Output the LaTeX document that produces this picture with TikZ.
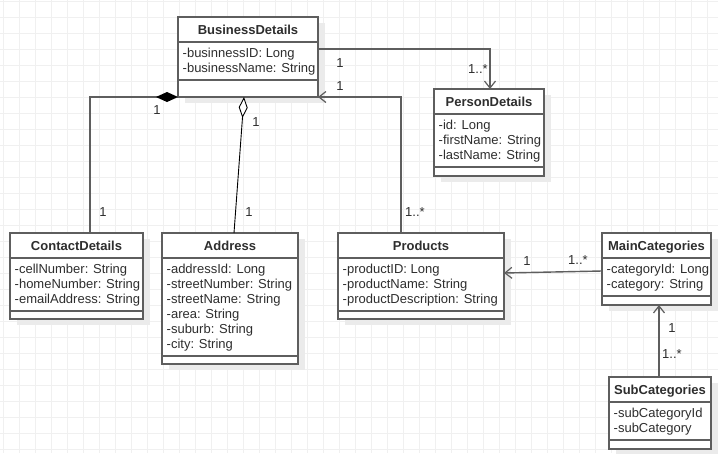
\documentclass[tikz,border=0pt]{standalone}
\usepackage{fontspec}
\setmainfont{Liberation Sans}
\usetikzlibrary{arrows.meta,calc}
\definecolor{gridc}{HTML}{F0F0F0}
\definecolor{linec}{HTML}{5E5E5E}
\definecolor{textc}{HTML}{2E2E2E}
\definecolor{shadc}{HTML}{EBEBEB}
\tikzset{
  classbox/.style={draw=linec, line width=1.3pt, fill=white, inner sep=0pt, outer sep=0pt, rectangle},
  sepline/.style={draw=linec, line width=1.3pt},
  titletext/.style={font=\bfseries\fontsize{13}{15}\selectfont, text=textc, inner sep=0pt, anchor=base},
  attrtext/.style={font=\fontsize{13}{15}\selectfont, text=textc, inner sep=0pt, anchor=base west},
  lbl/.style={font=\fontsize{13}{15}\selectfont, text=textc, inner sep=0pt},
  assoc/.style={draw=linec, line width=1.4pt},
  aggr/.style={draw=black, line width=0.9pt},
  openarrow/.style={-{Straight Barb[length=7pt,width=11pt,line width=1.2pt]}}
}
% #1 name, #2 left, #3 top, #4 right, #5 sep1, #6 sep2, #7 bottom, #8 title, #9 attributes
\newcommand{\umlclassbox}[9]{%
  \fill[shadc] (#2+7,#3+6) rectangle (#4+7,#7+6);
  \pgfmathsetmacro\bw{#4-#2}%
  \pgfmathsetmacro\bh{#7-#3}%
  \node[classbox, minimum width=\bw pt, minimum height=\bh pt] (#1) at ({(#2+#4)/2},{(#3+#7)/2}) {};
  \draw[sepline] (#2,#5) -- (#4,#5);
  \draw[sepline] (#2,#6) -- (#4,#6);
  \node[titletext] (#1t) at ({(#2+#4)/2},#3+17) {#8};
  \foreach \t [count=\i from 0] in {#9} {\node[attrtext] (#1a\i) at (#2+4.5,#5+15.5+15*\i) {\t};}
}
\begin{document}
\begin{tikzpicture}[x=1pt,y=-1pt]
\useasboundingbox (0,0) rectangle (718,453);
\fill[white] (0,0) rectangle (718,453);
\foreach \gx in {3,19,...,718} {\draw[gridc, line width=0.9pt] (\gx,0) -- (\gx,453);}
\foreach \gy in {1,17,...,453} {\draw[gridc, line width=0.9pt] (0,\gy) -- (718,\gy);}

\umlclassbox{bd}{178}{17}{318}{42}{80}{97}{BusinessDetails}{-businnessID: Long,-businessName: String}
\umlclassbox{pd}{434}{89}{544}{114}{167}{176}{PersonDetails}{-id: Long,-firstName: String,-lastName: String}
\umlclassbox{cd}{10}{233}{143}{258}{311}{319}{ContactDetails}{-cellNumber: String,-homeNumber: String,-emailAddress: String}
\umlclassbox{ad}{162}{233}{298}{258}{356}{364}{Address}{-addressId: Long,-streetNumber: String,-streetName: String,-area: String,-suburb: String,-city: String}
\umlclassbox{pr}{338}{233}{504}{258}{311}{319}{Products}{-productID: Long,-productName: String,-productDescription: String}
\umlclassbox{mc}{602}{233}{711}{258}{296}{305}{MainCategories}{-categoryId: Long,-category: String}
\umlclassbox{sc}{609}{377}{711}{402}{440}{449}{SubCategories}{-subCategoryId,-subCategory}

% BusinessDetails -> PersonDetails
\draw[assoc, openarrow] ($(bd.north east)+(0,32)$) -| ($(pd.north west)+(56,0)$);
\node[lbl] (l1) at (340,63) {1};
\node[lbl] (l2) at (478,69) {1..*};
% Products -> BusinessDetails
\draw[assoc, openarrow] ($(pr.north west)+(63,0)$) |- (bd.south east);
\node[lbl] (l3) at (340,86) {1};
\node[lbl] (l4) at (415,212) {1..*};
% composition ContactDetails
\draw[assoc, {Diamond[length=22pt,width=10pt,color=black,fill=black]}-] (bd.south west) -| ($(cd.north west)+(80,0)$);
\node[lbl] (l5) at (157,110) {1};
\node[lbl] (l6) at (103,212) {1};
% aggregation Address
\draw[aggr, {Diamond[open,fill=white,length=21pt,width=9pt]}-] ($(bd.south west)+(66,0)$) -- ($(ad.north west)+(72,0)$);
\node[lbl] (l7) at (256,122) {1};
\node[lbl] (l8) at (249,212) {1};
% MainCategories -> Products
\draw[assoc, openarrow] ($(mc.north west)+(0,38)$) -- ($(pr.north east)+(0,40)$);
\node[lbl] (l9) at (527,261) {1};
\node[lbl] (l10) at (578,260) {1..*};
% SubCategories -> MainCategories
\draw[assoc, openarrow] ($(sc.north west)+(50,0)$) -- ($(mc.south west)+(57,0)$);
\node[lbl] (l11) at (672,328) {1};
\node[lbl] (l12) at (672,354) {1..*};
\end{tikzpicture}
\end{document}
